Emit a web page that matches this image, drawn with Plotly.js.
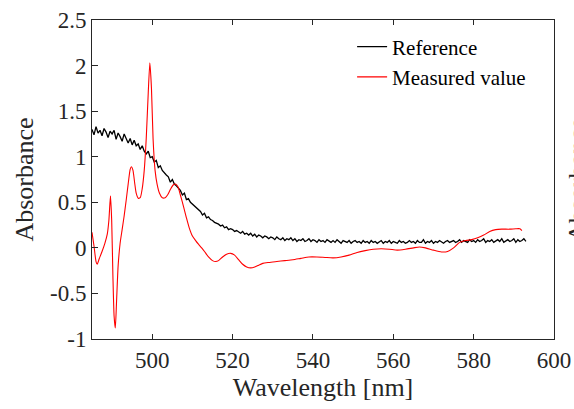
<!DOCTYPE html>
<html>
<head>
<meta charset="utf-8">
<script src="https://cdn.plot.ly/plotly-3.0.1.min.js"></script>
<style>html,body{margin:0;padding:0;background:#fff;}#chart{width:574px;height:409px;}</style>
</head>
<body>
<div id="chart"></div>
<script>
// Reference spectrum: 485 nm to 593 nm in 0.5 nm steps
const refStart = 485.0;
const refStep = 0.5;
const refAbs = [
1.30,1.24,1.33,1.26,1.29,1.23,1.31,1.27,1.21,1.28,
1.25,1.29,1.19,1.26,1.22,1.17,1.25,1.19,1.15,1.20,
1.13,1.18,1.12,1.14,1.08,1.12,1.06,1.03,1.06,0.99,
1.00,0.94,0.96,0.88,0.90,0.85,0.82,0.80,0.78,0.72,
0.75,0.70,0.68,0.65,0.63,0.58,0.60,0.53,0.54,0.50,
0.48,0.46,0.43,0.42,0.40,0.36,0.38,0.33,0.34,0.31,
0.30,0.28,0.27,0.26,0.24,0.25,0.22,0.23,0.20,0.21,
0.20,0.18,0.19,0.17,0.16,0.18,0.15,0.16,0.14,0.16,
0.13,0.15,0.12,0.14,0.13,0.11,0.13,0.12,0.10,0.12,
0.11,0.09,0.12,0.10,0.09,0.11,0.08,0.10,0.09,0.11,
0.08,0.10,0.07,0.09,0.08,0.10,0.07,0.08,0.10,0.07,
0.09,0.08,0.06,0.09,0.07,0.08,0.06,0.09,0.07,0.06,
0.08,0.06,0.09,0.07,0.05,0.08,0.07,0.06,0.08,0.05,
0.07,0.08,0.06,0.07,0.05,0.08,0.06,0.07,0.05,0.08,
0.06,0.07,0.05,0.07,0.08,0.05,0.07,0.06,0.08,0.05,
0.07,0.06,0.05,0.08,0.06,0.07,0.05,0.06,0.08,0.06,
0.07,0.05,0.08,0.06,0.06,0.09,0.05,0.07,0.06,0.08,
0.05,0.07,0.06,0.08,0.06,0.05,0.07,0.08,0.06,0.07,
0.08,0.06,0.07,0.09,0.06,0.08,0.07,0.06,0.09,0.07,
0.08,0.06,0.09,0.07,0.08,0.10,0.06,0.08,0.07,0.09,
0.06,0.08,0.09,0.07,0.10,0.06,0.08,0.09,0.07,0.08,
0.10,0.06,0.09,0.07,0.08,0.10,0.07
];
const refWl = refAbs.map((_, i) => refStart + i * refStep);

// Measured value spectrum
const measWl = [
485.0,485.5,486.0,486.3,486.8,487.5,488.2,488.8,489.2,489.6,
489.9,490.2,490.5,490.8,491.1,491.5,492.0,492.5,493.0,493.5,
494.0,494.5,494.8,495.2,495.6,496.0,496.5,497.0,497.5,498.0,
498.5,499.0,499.4,499.8,500.2,500.7,501.2,501.8,502.5,503.2,
503.8,504.5,505.2,505.8,506.4,507.0,507.8,508.5,509.2,510.0,
510.8,511.5,512.3,513.0,514.0,515.0,515.8,516.5,517.5,518.5,
519.5,520.5,521.5,522.5,523.5,524.5,525.5,526.5,527.5,529.0,
531.0,533.0,535.0,537.0,539.0,541.0,543.0,545.0,547.0,549.0,
551.0,553.0,555.0,557.0,559.0,561.0,563.0,565.0,566.5,568.0,
570.0,572.0,573.5,575.0,576.5,578.0,579.5,581.0,582.5,584.0,
585.5,587.0,589.0,590.5,591.5,592.0
];
const measAbs = [
0.17,0.02,-0.15,-0.18,-0.12,-0.04,0.05,0.15,0.30,0.57,
0.30,-0.30,-0.75,-0.88,-0.60,-0.20,0.05,0.20,0.35,0.52,
0.70,0.86,0.89,0.85,0.72,0.60,0.545,0.55,0.65,0.85,
1.20,1.70,2.03,1.75,1.20,0.85,0.70,0.60,0.55,0.55,
0.58,0.64,0.69,0.70,0.67,0.58,0.45,0.33,0.22,0.13,
0.08,0.04,0.00,-0.04,-0.10,-0.14,-0.15,-0.14,-0.10,-0.07,
-0.06,-0.08,-0.13,-0.18,-0.21,-0.22,-0.21,-0.19,-0.17,-0.16,
-0.15,-0.14,-0.13,-0.115,-0.10,-0.10,-0.105,-0.11,-0.10,-0.08,
-0.05,-0.03,-0.015,-0.01,-0.015,-0.025,-0.015,0.0,0.01,0.0,
-0.025,-0.045,-0.04,0.0,0.06,0.08,0.09,0.11,0.14,0.18,
0.20,0.205,0.205,0.21,0.21,0.19
];

const xTicks = [500, 520, 540, 560, 580, 600];
const yTicks = [-1, -0.5, 0, 0.5, 1, 1.5, 2, 2.5];
const yTickText = ['-1', '-0.5', '0', '0.5', '1', '1.5', '2', '2.5'];
const y2Ticks = [2.21, 1.715, 1.22, 0.72, 0.22, -0.28];

const serif = "'Liberation Serif', 'Times New Roman', serif";
const axisColor = '#262626';

const traces = [
  {x: refWl, y: refAbs, type: 'scatter', mode: 'lines', name: 'Reference',
   line: {color: '#000000', width: 1.3}},
  {x: measWl, y: measAbs, type: 'scatter', mode: 'lines', name: 'Measured value',
   line: {color: '#ff0000', width: 1.1, shape: 'spline', smoothing: 0.6}}
];

const layout = {
  width: 574, height: 409,
  margin: {l: 92, r: 20, t: 20, b: 70},
  paper_bgcolor: '#ffffff', plot_bgcolor: '#ffffff',
  font: {family: serif, size: 23, color: axisColor},
  showlegend: true,
  legend: {x: 0.563, y: 0.98, xanchor: 'left', yanchor: 'top',
    bgcolor: 'rgba(0,0,0,0)', borderwidth: 0,
    font: {family: serif, size: 21, color: '#000000'}, tracegroupgap: 0},
  xaxis: {range: [485, 600], tickvals: xTicks, ticks: 'inside', ticklen: 5,
    tickcolor: axisColor, showline: true, linecolor: axisColor, linewidth: 1,
    mirror: 'ticks', showgrid: false, zeroline: false,
    tickfont: {family: serif, size: 23, color: axisColor},
    title: {text: 'Wavelength [nm]', font: {family: serif, size: 26, color: axisColor}, standoff: 2}},
  yaxis: {range: [-1, 2.5], tickvals: yTicks, ticktext: yTickText, ticks: 'inside', ticklen: 6,
    tickcolor: axisColor, showline: true, linecolor: axisColor, linewidth: 1,
    mirror: true, showgrid: false, zeroline: false,
    tickfont: {family: serif, size: 23, color: axisColor},
    title: {text: 'Absorbance', font: {family: serif, size: 26, color: axisColor}, standoff: 8}},
  yaxis2: {overlaying: 'y', side: 'right', range: [-1, 2.5], tickvals: y2Ticks,
    ticks: 'inside', ticklen: 6, tickcolor: axisColor, showticklabels: false,
    showline: true, linecolor: axisColor, linewidth: 1, showgrid: false, zeroline: false},
  annotations: [
    {text: 'Absorbance', xref: 'paper', yref: 'paper', x: 1.015, y: 0.5,
     xanchor: 'left', yanchor: 'middle', textangle: -90, showarrow: false,
     font: {family: serif, size: 26, color: axisColor}}
  ]
};

Plotly.newPlot('chart', traces, layout, {displayModeBar: false, staticPlot: true});
</script>
</body>
</html>
